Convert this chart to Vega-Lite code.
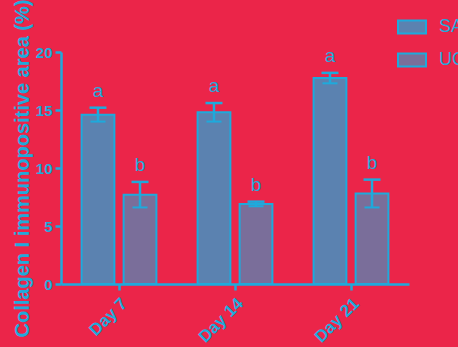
{
  "$schema": "https://vega.github.io/schema/vega-lite/v6.json",
  "autosize": {"type": "none"},
  "padding": {"left": 61, "top": 52, "right": 49, "bottom": 63},
  "width": 348,
  "height": 232,
  "background": "#EB2549",
  "config": {
    "view": {"stroke": null},
    "font": "Liberation Sans",
    "axis": {"domainColor": "#1EAADC", "domainWidth": 2.5, "tickColor": "#1EAADC", "tickWidth": 2.5, "tickSize": 6, "labelColor": "#1EAADC", "titleColor": "#1EAADC", "labelFont": "Liberation Sans", "titleFont": "Liberation Sans", "grid": false}
  },
  "data": {"values": [
    {"day": "Day 7", "group": "SA", "value": 14.6, "lo": 14.0, "hi": 15.2, "sig": "a"},
    {"day": "Day 7", "group": "UC", "value": 7.7, "lo": 6.6, "hi": 8.8, "sig": "b"},
    {"day": "Day 14", "group": "SA", "value": 14.8, "lo": 14.0, "hi": 15.6, "sig": "a"},
    {"day": "Day 14", "group": "UC", "value": 6.9, "lo": 6.7, "hi": 7.1, "sig": "b"},
    {"day": "Day 21", "group": "SA", "value": 17.75, "lo": 17.3, "hi": 18.2, "sig": "a"},
    {"day": "Day 21", "group": "UC", "value": 7.8, "lo": 6.6, "hi": 9.0, "sig": "b"}
  ]},
  "encoding": {
    "x": {"field": "day", "type": "nominal", "sort": ["Day 7", "Day 14", "Day 21"],
      "scale": {"paddingInner": 0, "paddingOuter": 0},
      "axis": {"title": null, "labelAngle": -45, "labelFontSize": 17, "labelFontWeight": "bold", "labelPadding": 5}},
    "xOffset": {"field": "group", "type": "nominal", "scale": {"paddingInner": 0.22, "paddingOuter": 0.49}}
  },
  "layer": [
    {
      "mark": {"type": "bar", "stroke": "#1EAADC", "strokeWidth": 2},
      "encoding": {
        "y": {"field": "value", "type": "quantitative", "scale": {"domain": [0, 20]},
          "axis": {"title": "Collagen I immunopositive area (%)", "titleFontSize": 20, "titleFontWeight": "bold", "titlePadding": 3, "values": [0, 5, 10, 15, 20], "labelFontSize": 15, "labelFontWeight": "bold", "labelPadding": 3}},
        "fill": {"field": "group", "type": "nominal",
          "scale": {"domain": ["SA", "UC"], "range": ["#5B82B0", "#7A6E9A"]},
          "legend": {"title": null, "orient": "none", "legendX": 336, "legendY": -40,
            "symbolType": "M-1,-0.46H1V0.46H-1Z", "symbolSize": 784, "symbolStrokeColor": "#1EAADC", "symbolStrokeWidth": 2, "symbolOpacity": 1,
            "labelFontSize": 18, "labelColor": "#1EAADC", "labelOffset": 12, "rowPadding": 7, "padding": 0}}
      }
    },
    {
      "mark": {"type": "rule", "color": "#1EAADC", "strokeWidth": 2.5},
      "encoding": {"y": {"field": "lo", "type": "quantitative"}, "y2": {"field": "hi"}}
    },
    {
      "mark": {"type": "tick", "color": "#1EAADC", "thickness": 2.5, "size": 17, "opacity": 1},
      "encoding": {"y": {"field": "hi", "type": "quantitative"}}
    },
    {
      "mark": {"type": "tick", "color": "#1EAADC", "thickness": 2, "size": 15, "opacity": 1},
      "encoding": {"y": {"field": "lo", "type": "quantitative"}}
    },
    {
      "mark": {"type": "text", "color": "#1EAADC", "fontSize": 19, "baseline": "alphabetic", "dy": -11},
      "encoding": {"y": {"field": "hi", "type": "quantitative"}, "text": {"field": "sig"}}
    }
  ]
}
